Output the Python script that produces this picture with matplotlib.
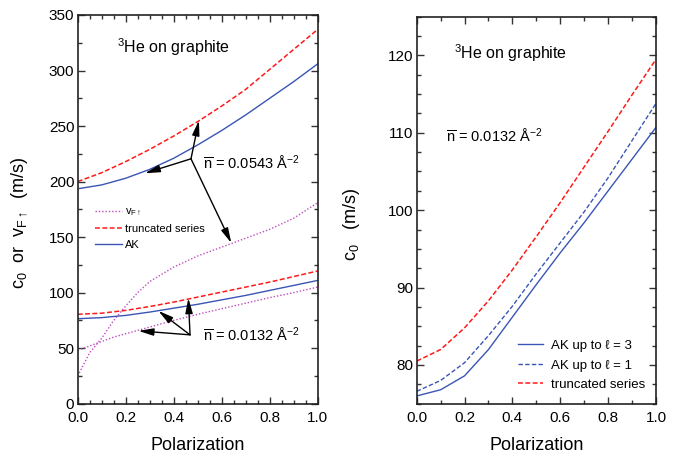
import numpy as np
import matplotlib
matplotlib.use("Agg")
import matplotlib.pyplot as plt
from matplotlib.ticker import MultipleLocator

plt.rcParams['font.family'] = ['Liberation Sans', 'DejaVu Sans']
plt.rcParams['mathtext.fontset'] = 'custom'
plt.rcParams['mathtext.rm'] = 'Liberation Sans'
plt.rcParams['mathtext.it'] = 'Liberation Sans:italic'
plt.rcParams['mathtext.sf'] = 'Liberation Sans'

# ---- data ----
pol = [0.0, 0.1, 0.2, 0.3, 0.4, 0.5, 0.6, 0.7, 0.8, 0.9, 1.0]

# left panel, n = 0.0543
trunc_0543 = [200, 208, 218, 229, 241, 254, 268, 283, 301, 319, 337]
ak_0543 = [193.5, 197, 203, 211, 221, 233, 246, 260, 275, 290, 306]
pol_vf = [0.0, 0.05, 0.1, 0.15, 0.2, 0.25, 0.3, 0.4, 0.5, 0.6, 0.7, 0.8, 0.9, 1.0]
vf_0543 = [25, 46, 59, 75, 88, 100, 110, 123, 133, 141, 149, 157, 167, 181]

# left panel, n = 0.0132
trunc_0132 = [80.5, 81.5, 84, 87.5, 91.5, 96, 100.5, 105, 109.5, 114.5, 119.5]
ak_0132 = [76.5, 77.5, 79.5, 82.5, 86, 89.5, 93.5, 97.5, 102, 106.5, 111]
vf_0132 = [48, 52, 56, 60, 63, 66, 69, 75, 80.5, 85.5, 90.5, 95.5, 100, 105]

# right panel, n = 0.0132
r_trunc = [80.5, 82.0, 84.8, 88.3, 92.3, 96.6, 101.0, 105.6, 110.2, 114.9, 119.5]
r_ak1 = [76.6, 78.0, 80.3, 83.8, 87.6, 91.8, 95.8, 99.8, 104.2, 109.0, 113.8]
r_ak3 = [76.0, 76.8, 78.6, 82.0, 86.2, 90.4, 94.5, 98.4, 102.5, 106.6, 110.7]

# arrow annotations (origin, tips) in data units
arrow_0543_from = (0.472, 220.5)
arrow_0543_to = [(0.28, 207.5), (0.505, 255), (0.64, 144.7)]
arrow_0132_from = (0.468, 62)
arrow_0132_to = [(0.461, 95), (0.336, 83.6), (0.253, 65.6)]

red = '#ff1a1a'
blue = '#3a55b4'
purple = '#c04cc0'
dash = (3.2, 1.6)
dot = (1, 1.4)

fig = plt.figure(figsize=(6.8, 4.61), dpi=100)
ax1 = fig.add_axes([0.1143, 0.1243, 0.3529, 0.8432])
ax2 = fig.add_axes([0.6128, 0.1243, 0.3519, 0.8395])


def style(ax):
    for s in ax.spines.values():
        s.set_linewidth(1.2)
        s.set_color('#222222')
    ax.tick_params(which='both', direction='in', top=True, right=True,
                   color='#333333', width=1.0)
    ax.tick_params(which='major', length=5)
    ax.tick_params(which='minor', length=3)
    ax.tick_params(axis='x', pad=5, labelsize=11)
    ax.tick_params(axis='y', pad=2.5, labelsize=11)


# ---- left panel ----
ax1.plot(pol_vf, vf_0543, color=purple, lw=1, dashes=dot, label=r'v$_{\mathregular{F}\uparrow}$')
ax1.plot(pol, trunc_0543, color=red, lw=1.1, dashes=dash, label='truncated series')
ax1.plot(pol, ak_0543, color=blue, lw=1, label='AK')
ax1.plot(pol_vf, vf_0132, color=purple, lw=1, dashes=dot)
ax1.plot(pol, trunc_0132, color=red, lw=1.1, dashes=dash)
ax1.plot(pol, ak_0132, color=blue, lw=1)

ax1.set_xlim(0, 1)
ax1.set_ylim(0, 350)
ax1.xaxis.set_major_locator(MultipleLocator(0.2))
ax1.xaxis.set_minor_locator(MultipleLocator(0.05))
ax1.yaxis.set_major_locator(MultipleLocator(50))
ax1.yaxis.set_minor_locator(MultipleLocator(25))
ax1.xaxis.set_major_formatter(plt.FormatStrFormatter('%.1f'))
style(ax1)

ax1.set_xlabel('Polarization', fontsize=13)
ax1.xaxis.set_label_coords(0.5, -0.085)
ax1.set_ylabel(r'c$_\mathregular{0}$  or  v$_{\mathregular{F}\uparrow}$  (m/s)', fontsize=13)
ax1.yaxis.set_label_coords(-0.2, 0.465)

ax1.text(0.162, 0.916, r'$^\mathregular{3}$He on graphite', transform=ax1.transAxes,
         fontsize=11.5, va='center', ha='left')
ax1.text(0.52, 0.619, r'$\overline{\mathregular{n}}$ = 0.0543 Å$^{\mathregular{-2}}$',
         transform=ax1.transAxes, fontsize=10.5, va='center', ha='left')
ax1.text(0.52, 0.177, r'$\overline{\mathregular{n}}$ = 0.0132 Å$^{\mathregular{-2}}$',
         transform=ax1.transAxes, fontsize=10.5, va='center', ha='left')

aprops = dict(arrowstyle='-|>,head_length=0.9,head_width=0.22', color='black',
              lw=1, shrinkA=0, shrinkB=0, mutation_scale=10)
for tip in arrow_0543_to:
    ax1.annotate('', xy=tip, xytext=arrow_0543_from, arrowprops=aprops)
for tip in arrow_0132_to:
    ax1.annotate('', xy=tip, xytext=arrow_0132_from, arrowprops=aprops)

ax1.legend(loc='upper left', bbox_to_anchor=(0.072, 0.507), frameon=False,
           fontsize=8, handlelength=2.4, handletextpad=0.3, labelspacing=0.5,
           borderpad=0, borderaxespad=0)

# ---- right panel ----
ax2.plot(pol, r_ak3, color=blue, lw=1, label='AK up to ℓ = 3')
ax2.plot(pol, r_ak1, color=blue, lw=1, dashes=dash, label='AK up to ℓ = 1')
ax2.plot(pol, r_trunc, color=red, lw=1.1, dashes=dash, label='truncated series')

ax2.set_xlim(0, 1)
ax2.set_ylim(75, 125)
ax2.xaxis.set_major_locator(MultipleLocator(0.2))
ax2.xaxis.set_minor_locator(MultipleLocator(0.1))
ax2.yaxis.set_major_locator(MultipleLocator(10))
ax2.yaxis.set_minor_locator(MultipleLocator(2.5))
ax2.xaxis.set_major_formatter(plt.FormatStrFormatter('%.1f'))
style(ax2)

ax2.set_xlabel('Polarization', fontsize=13)
ax2.xaxis.set_label_coords(0.5, -0.085)
ax2.set_ylabel(r'c$_\mathregular{0}$   (m/s)', fontsize=13)
ax2.yaxis.set_label_coords(-0.229, 0.465)

ax2.text(0.155, 0.905, r'$^\mathregular{3}$He on graphite', transform=ax2.transAxes,
         fontsize=11.5, va='center', ha='left')
ax2.text(0.122, 0.692, r'$\overline{\mathregular{n}}$ = 0.0132 Å$^{\mathregular{-2}}$',
         transform=ax2.transAxes, fontsize=10.5, va='center', ha='left')

ax2.legend(loc='upper left', bbox_to_anchor=(0.423, 0.165), frameon=False,
           fontsize=9.5, handlelength=1.9, handletextpad=0.6, labelspacing=0.55,
           borderpad=0, borderaxespad=0)

fig.savefig('out.png', dpi=100)
